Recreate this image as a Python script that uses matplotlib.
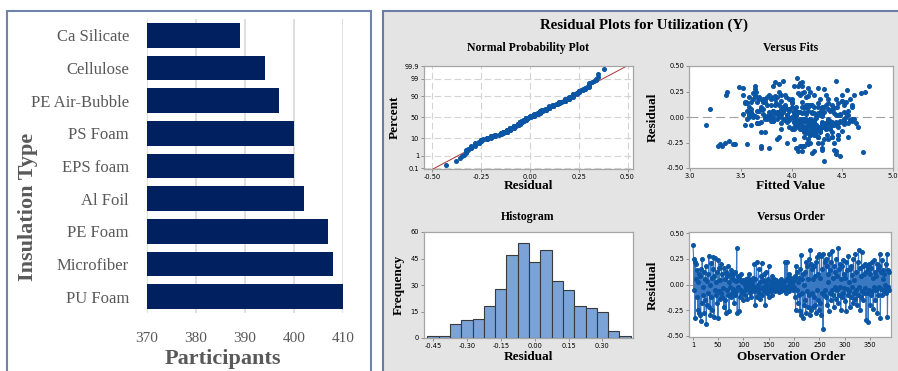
import matplotlib
matplotlib.use("Agg")
import matplotlib.pyplot as plt
from matplotlib.patches import Rectangle
from statistics import NormalDist, mean, stdev

# ---- left chart data ----
insulation = ["PU Foam", "Microfiber", "PE Foam", "Al Foil", "EPS foam",
              "PS Foam", "PE Air-Bubble", "Cellulose", "Ca Silicate"]
participants = [410, 408, 407, 402, 400, 400, 397, 394, 389]
part_ticks = [370, 380, 390, 400, 410]

# ---- residual plots data ----
residuals = [
    0.38, 0.25, -0.05, 0.22, -0.33, 0.20, 0.05, -0.12, 0.14, -0.25, 0.02, -0.28, 0.10, -0.30, 0.08, -0.35, 0.15, -0.18, 0.25, -0.10,
    -0.02, 0.12, -0.28, 0.05, -0.15, 0.18, -0.38, 0.03, -0.20, 0.10, -0.08, 0.28, -0.22, 0.00, -0.30, 0.21, -0.12, 0.06, -0.25, 0.15,
    0.27, -0.32, 0.08, -0.05, 0.26, -0.10, 0.02, -0.18, 0.12, -0.33, 0.24, -0.06, 0.16, -0.14, 0.04, -0.08, 0.20, -0.12, 0.10, -0.03,
    0.16, -0.22, 0.05, -0.15, 0.12, -0.28, 0.08, -0.05, 0.18, -0.10, 0.02, -0.26, 0.10, -0.02, 0.14, -0.12, 0.06, -0.08, 0.10, -0.04,
    0.04, -0.18, 0.12, -0.10, 0.03, -0.06, 0.35, -0.28, 0.08, -0.02, 0.06, -0.26, 0.04, -0.12, 0.10, -0.05, 0.02, -0.08, 0.04, -0.15,
    0.03, -0.06, 0.00, -0.10, 0.05, -0.03, 0.02, -0.14, 0.06, -0.02, 0.10, -0.05, 0.00, -0.08, 0.04, -0.12, 0.02, -0.04, 0.06, -0.01,
    -0.06, 0.20, -0.20, 0.05, -0.02, 0.22, -0.12, 0.00, -0.05, 0.15, -0.08, 0.02, -0.14, 0.08, -0.03, 0.21, -0.10, 0.04, -0.02, 0.10,
    -0.06, 0.02, -0.20, 0.12, -0.04, 0.00, -0.08, 0.05, -0.02, 0.18, -0.12, 0.03, -0.06, 0.00, -0.04, 0.08, -0.10, 0.02, -0.03, 0.05,
    -0.05, 0.00, -0.06, 0.04, -0.03, 0.01, -0.05, 0.02, -0.04, 0.00, -0.07, 0.03, -0.02, 0.05, -0.06, 0.01, -0.03, 0.00, -0.04, 0.02,
    -0.05, 0.22, -0.02, 0.04, -0.08, 0.22, -0.03, 0.06, -0.01, 0.10, -0.06, 0.02, -0.04, 0.06, -0.02, 0.01, -0.05, 0.03, -0.02, 0.05,
    -0.12, 0.08, -0.25, 0.18, -0.05, 0.12, -0.18, 0.02, -0.10, 0.06, -0.26, 0.15, -0.30, 0.29, -0.08, 0.05, -0.33, 0.10, -0.20, 0.00,
    -0.15, 0.12, -0.28, 0.22, -0.06, 0.18, -0.22, 0.05, -0.10, 0.25, -0.30, 0.34, -0.25, 0.20, -0.08, 0.15, -0.22, 0.05, -0.12, 0.18,
    -0.20, 0.08, -0.28, 0.22, -0.05, 0.27, -0.15, 0.10, -0.25, 0.30, -0.18, 0.06, -0.30, 0.28, -0.08, 0.15, -0.43, 0.30, -0.10, 0.22,
    -0.05, 0.25, -0.12, 0.18, -0.20, 0.10, 0.02, -0.26, 0.30, -0.08, 0.14, -0.15, 0.22, -0.05, 0.33, -0.10, 0.06, -0.22, 0.18, -0.02,
    0.12, -0.14, 0.25, -0.05, 0.08, -0.18, 0.35, -0.10, 0.15, -0.02, 0.20, -0.25, 0.05, -0.12, 0.18, -0.08, 0.24, -0.03, 0.10, -0.16,
    0.06, -0.26, 0.22, -0.04, 0.14, -0.10, 0.28, -0.06, 0.02, -0.22, 0.15, -0.12, 0.18, -0.02, 0.09, -0.18, 0.25, -0.08, 0.04, -0.14,
    0.30, -0.05, 0.12, -0.20, 0.22, -0.10, 0.34, -0.02, 0.16, -0.25, 0.08, -0.12, 0.32, -0.06, 0.18, -0.15, 0.10, -0.08, 0.20, -0.03,
    0.12, -0.34, 0.18, -0.08, 0.14, -0.36, 0.20, -0.05, 0.10, -0.20, 0.16, -0.10, 0.22, -0.06, 0.06, -0.24, 0.24, -0.02, 0.12, -0.15,
    0.08, -0.05, 0.20, -0.28, 0.15, -0.10, 0.18, -0.02, 0.30, -0.33, 0.12, -0.04, 0.24, -0.10, 0.05, 0.14, -0.06, 0.10, -0.04, 0.00,
    0.20, -0.08, 0.30, -0.32, 0.14, -0.02, 0.12, -0.05,
]

fitted = [
    4.05, 3.65, 4.20, 3.35, 4.10, 3.95, 4.30, 4.00, 3.85, 4.15, 4.25, 3.70, 4.45, 4.05, 3.90, 4.20, 3.55, 4.35, 4.12, 4.02,
    3.80, 4.18, 4.08, 3.60, 4.28, 3.98, 4.48, 4.14, 3.88, 4.22, 4.06, 3.52, 4.32, 4.00, 3.78, 4.16, 4.38, 3.92, 4.26, 4.10,
    3.64, 4.42, 3.72, 4.04, 4.55, 4.12, 3.96, 4.24, 3.84, 4.06, 3.62, 4.30, 3.90, 4.18, 4.02, 4.40, 3.76, 4.22, 3.94, 4.14,
    4.50, 3.86, 4.08, 3.74, 4.34, 4.10, 3.98, 4.20, 3.68, 4.26, 4.04, 3.56, 4.16, 3.92, 4.36, 4.08, 3.82, 4.24, 4.00, 4.12,
    4.20, 4.46, 3.88, 4.06, 4.28, 3.66, 4.44, 4.10, 3.96, 4.18, 4.02, 3.44, 4.22, 3.90, 4.14, 4.30, 3.80, 4.04, 4.26, 4.12,
    3.52, 4.38, 3.74, 4.46, 3.86, 4.58, 3.62, 4.28, 3.98, 4.52, 3.70, 4.16, 3.82, 4.42, 3.58, 4.34, 3.90, 4.48, 3.66, 4.24,
    4.56, 3.64, 4.40, 3.78, 4.62, 3.52, 4.28, 3.88, 4.44, 3.72, 4.18, 3.96, 4.50, 3.60, 4.36, 3.84, 4.08, 4.54, 3.76, 4.30,
    3.68, 4.44, 4.26, 3.80, 4.52, 3.58, 4.34, 3.92, 4.60, 3.74, 4.20, 3.86, 4.46, 3.62, 4.38, 3.70, 4.14, 4.56, 3.94, 4.32,
    4.48, 3.66, 4.30, 3.84, 4.58, 3.76, 4.40, 3.58, 4.22, 3.96, 4.52, 3.72, 4.36, 3.88, 4.44, 3.64, 4.12, 4.54, 3.80, 4.28,
    3.70, 4.50, 3.86, 4.42, 3.60, 4.34, 3.94, 4.56, 3.78, 4.26, 3.66, 4.46, 3.82, 4.38, 3.56, 4.30, 4.02, 4.48, 3.74, 4.20,
    4.10, 3.70, 4.30, 3.62, 4.18, 3.94, 4.22, 4.04, 4.38, 3.82, 4.16, 3.60, 4.30, 3.48, 4.08, 4.12, 4.44, 3.58, 4.26, 4.00,
    4.20, 3.76, 4.12, 3.90, 4.34, 3.72, 4.02, 4.28, 3.98, 4.18, 4.04, 4.10, 3.34, 3.86, 4.24, 3.54, 4.36, 4.06, 4.14, 3.80,
    4.26, 4.40, 3.28, 4.08, 4.22, 4.32, 4.14, 3.92, 4.18, 4.02, 4.46, 3.68, 3.70, 4.16, 4.06, 4.54, 4.32, 4.10, 4.24, 3.64,
    3.96, 3.36, 4.20, 3.74, 4.12, 4.04, 4.30, 3.42, 3.82, 4.16, 4.00, 4.40, 4.22, 4.14, 4.08, 4.28, 3.56, 4.46, 3.84, 4.10,
    4.60, 4.24, 3.88, 4.06, 4.36, 4.18, 3.92, 4.30, 3.74, 4.02, 3.80, 4.42, 4.52, 4.12, 4.58, 4.20, 4.06, 3.98, 4.32, 4.14,
    4.04, 3.30, 3.94, 4.22, 3.56, 4.08, 4.26, 4.64, 4.48, 4.16, 3.66, 4.34, 4.00, 4.12, 4.42, 4.18, 4.72, 4.20, 4.10, 4.28,
    4.76, 4.06, 4.14, 4.40, 3.78, 4.24, 3.84, 4.18, 4.50, 3.96, 4.30, 4.02, 3.88, 4.46, 4.36, 3.70, 4.60, 4.10, 3.68, 4.22,
    4.16, 4.70, 4.44, 3.54, 4.26, 4.44, 3.84, 4.08, 4.12, 4.56, 3.72, 4.32, 4.62, 3.90, 4.16, 3.38, 4.10, 4.04, 4.52, 4.20,
    3.20, 4.36, 3.58, 3.32, 4.00, 4.66, 4.28, 4.14, 4.06, 4.22, 4.40, 3.82, 4.68, 4.18, 4.02, 3.54, 4.34, 4.10, 4.60, 4.24,
    4.14, 3.16, 3.64, 4.30, 4.46, 4.08, 4.20, 4.02,
]

hist_centers = [-0.45, -0.40, -0.35, -0.30, -0.25, -0.20, -0.15, -0.10, -0.05,
                0.00, 0.05, 0.10, 0.15, 0.20, 0.25, 0.30, 0.35, 0.40]
hist_counts = [1, 1, 8, 10, 11, 18, 28, 47, 54, 43, 50, 32, 27, 18, 17, 15, 4, 1]

pct_ticks = [0.1, 1, 10, 50, 90, 99, 99.9]
pct_labels = ["0.1", "1", "10", "50", "90", "99", "99.9"]

W, H = 898, 371
fig = plt.figure(figsize=(W / 100, H / 100), dpi=100)


def fx(px):
    return px / W


def fy(py):
    return 1 - py / H


# panel backgrounds
fig.patches.append(Rectangle((fx(7), -0.02), fx(364), fy(11) + 0.02, transform=fig.transFigure,
                             facecolor="white", edgecolor="#7083ad", linewidth=1.5, zorder=-10))
fig.patches.append(Rectangle((fx(383), -0.02), fx(520), fy(11) + 0.02, transform=fig.transFigure,
                             facecolor="#e4e4e4", edgecolor="#6a7ca6", linewidth=1.5, zorder=-10))

# ---------------- left: horizontal bars ----------------
grey = "#595959"
serif = "Liberation Serif"
ax = fig.add_axes([fx(147), fy(313), fx(196), (313 - 19) / H])
ax.barh(range(len(insulation)), [p - 370 for p in participants], left=370, height=0.76, color="#002060", zorder=3)
ax.set_xlim(370, 410)
ax.set_ylim(-0.5, len(insulation) - 0.5)
ax.set_xticks(part_ticks)
ax.set_xticklabels([str(t) for t in part_ticks], family=serif, fontsize=11, color=grey)
ax.set_yticks(range(len(insulation)))
ax.set_yticklabels(insulation, family=serif, fontsize=12, color=grey)
ax.tick_params(length=0)
ax.tick_params(axis="x", pad=14)
ax.tick_params(axis="y", pad=13)
ax.xaxis.grid(True, color="#d9d9d9", linewidth=1.2, zorder=0)
for s in ax.spines.values():
    s.set_visible(False)
ax.set_facecolor("none")
fig.text(fx(223), fy(359), "Participants", family=serif, fontsize=16, fontweight="bold",
         color=grey, ha="center", va="center")
fig.text(fx(28), fy(207), "Insulation Type", family=serif, fontsize=16, fontweight="bold",
         color=grey, ha="center", va="center", rotation=90)

# ---------------- right: Minitab residual plots ----------------
blue = "#0b56a4"
sub_fs = 8.5
lab_fs = 9.5


def style(a):
    a.set_facecolor("white")
    for s in a.spines.values():
        s.set_color("#a6a6a6")
        s.set_linewidth(0.9)
    a.tick_params(length=2.5, width=0.6, color="#808080", pad=1, labelsize=4.8)
    for lab in a.get_xticklabels() + a.get_yticklabels():
        lab.set_family("DejaVu Sans")


fig.text(fx(644), fy(25), "Residual Plots for Utilization (Y)", family=serif, fontsize=10.7,
         fontweight="bold", ha="center", va="center")

# normal probability plot
nd = NormalDist()
ax1 = fig.add_axes([fx(424), fy(169), fx(209), (169 - 66) / H])
srt = sorted(residuals)
n = len(srt)
zs = [nd.inv_cdf((i + 1 - 0.3) / (n + 0.4)) for i in range(n)]
mu, sd = mean(residuals), stdev(residuals)
zlo, zhi = nd.inv_cdf(0.001), nd.inv_cdf(0.999)
ax1.plot([mu + sd * zlo - 0.05, mu + sd * zhi + 0.05], [zlo - 0.05 / sd, zhi + 0.05 / sd],
         color="#b03030", linewidth=0.7, zorder=2)
ax1.plot(srt, zs, "o", color=blue, markersize=2.6, zorder=3)
ax1.set_xlim(-0.543, 0.528)
ax1.set_ylim(zlo - 0.04, zhi + 0.02)
ax1.set_xticks([-0.5, -0.25, 0, 0.25, 0.5])
ax1.set_xticklabels(["-0.50", "-0.25", "0.00", "0.25", "0.50"])
ax1.set_yticks([nd.inv_cdf(p / 100) for p in pct_ticks])
ax1.set_yticklabels(pct_labels)
ax1.grid(True, color="#d4d4d4", linewidth=0.8, linestyle=(0, (6, 3)), zorder=0)
style(ax1)
fig.text(fx(528), fy(48), "Normal Probability Plot", family=serif, fontsize=sub_fs,
         fontweight="bold", ha="center", va="center")
fig.text(fx(528), fy(186), "Residual", family=serif, fontsize=lab_fs, fontweight="bold", ha="center", va="center")
fig.text(fx(395), fy(117), "Percent", family=serif, fontsize=lab_fs, fontweight="bold", ha="center",
         va="center", rotation=90)

# versus fits
ax2 = fig.add_axes([fx(689), fy(168), fx(204), (168 - 66) / H])
ax2.axhline(0, color="#a0a0a0", linewidth=0.8, linestyle=(0, (8, 4)), zorder=1)
ax2.plot(fitted, residuals, "o", color=blue, markersize=2.6, zorder=3)
ax2.set_xlim(2.99, 5.0)
ax2.set_ylim(-0.5, 0.5)
ax2.set_xticks([3.0, 3.5, 4.0, 4.5, 5.0])
ax2.set_xticklabels(["3.0", "3.5", "4.0", "4.5", "5.0"])
ax2.set_yticks([-0.5, -0.25, 0, 0.25, 0.5])
ax2.set_yticklabels(["-0.50", "-0.25", "0.00", "0.25", "0.50"])
style(ax2)
fig.text(fx(791), fy(48), "Versus Fits", family=serif, fontsize=sub_fs, fontweight="bold", ha="center", va="center")
fig.text(fx(791), fy(186), "Fitted Value", family=serif, fontsize=lab_fs, fontweight="bold", ha="center", va="center")
fig.text(fx(653), fy(117), "Residual", family=serif, fontsize=lab_fs, fontweight="bold", ha="center",
         va="center", rotation=90)

# histogram
ax3 = fig.add_axes([fx(424), fy(338), fx(209), (338 - 232) / H])
ax3.bar(hist_centers, hist_counts, width=0.05, color="#7ba3d8", edgecolor="#3a3a3a", linewidth=0.8, zorder=3)
ax3.set_xlim(-0.49, 0.435)
ax3.set_ylim(0, 60)
ax3.set_xticks([-0.45, -0.30, -0.15, 0, 0.15, 0.30])
ax3.set_xticklabels(["-0.45", "-0.30", "-0.15", "0.00", "0.15", "0.30"])
ax3.set_yticks([0, 15, 30, 45, 60])
style(ax3)
fig.text(fx(528), fy(217), "Histogram", family=serif, fontsize=sub_fs, fontweight="bold", ha="center", va="center")
fig.text(fx(528), fy(357), "Residual", family=serif, fontsize=lab_fs, fontweight="bold", ha="center", va="center")
fig.text(fx(399), fy(285), "Frequency", family=serif, fontsize=lab_fs, fontweight="bold", ha="center",
         va="center", rotation=90)

# versus order
ax4 = fig.add_axes([fx(689), fy(337), fx(202), (337 - 232) / H])
order = list(range(1, len(residuals) + 1))
ax4.axhline(0, color="#a0a0a0", linewidth=0.8, linestyle=(0, (8, 4)), zorder=1)
ax4.plot(order, residuals, "-", color="#3b78c2", linewidth=0.8, zorder=2)
ax4.plot(order, residuals, "o", color=blue, markersize=2.6, zorder=3)
ax4.set_xlim(-7, 391)
ax4.set_ylim(-0.51, 0.51)
ax4.set_xticks([1, 50, 100, 150, 200, 250, 300, 350])
ax4.set_yticks([-0.5, -0.25, 0, 0.25, 0.5])
ax4.set_yticklabels(["-0.50", "-0.25", "0.00", "0.25", "0.50"])
style(ax4)
fig.text(fx(791), fy(217), "Versus Order", family=serif, fontsize=sub_fs, fontweight="bold", ha="center", va="center")
fig.text(fx(791), fy(357), "Observation Order", family=serif, fontsize=lab_fs, fontweight="bold",
         ha="center", va="center")
fig.text(fx(653), fy(285), "Residual", family=serif, fontsize=lab_fs, fontweight="bold", ha="center",
         va="center", rotation=90)

fig.savefig("out.png", dpi=100)
